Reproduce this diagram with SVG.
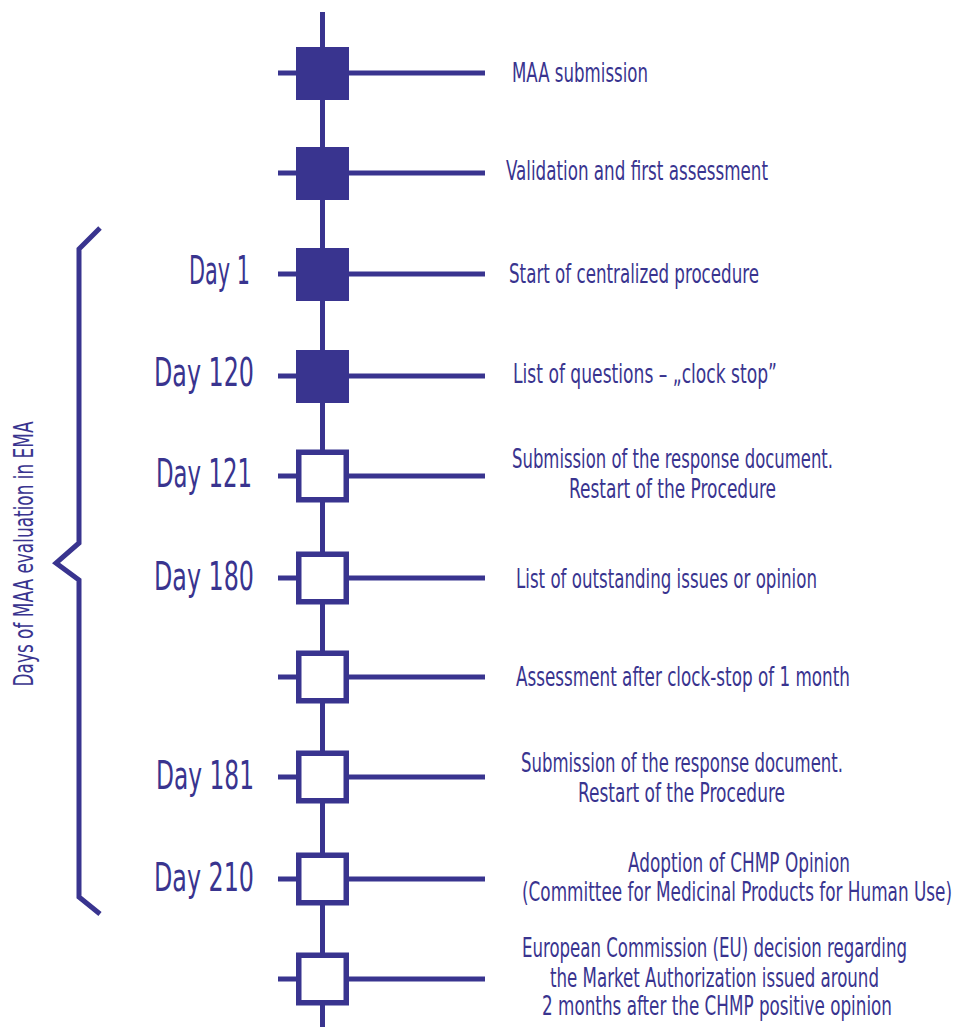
<svg xmlns="http://www.w3.org/2000/svg" width="956" height="1027" viewBox="0 0 956 1027">
<style>
.ln{stroke:#39348f;stroke-width:5;fill:none}
.fill{fill:#39348f}
.open{fill:#fff;stroke:#39348f;stroke-width:5.5}
text{font-family:"Liberation Sans Narrow","DejaVu Sans Condensed","Liberation Sans",sans-serif;fill:#39348f}
.lbl{font-size:26px}
.day{font-size:39px}
.side{font-size:27px}
</style>
<rect width="956" height="1027" fill="#fff"/>
<g id="connectors">
<line class="ln" x1="322.5" y1="12" x2="322.5" y2="1027"/>
<line class="ln" x1="278" y1="73" x2="485" y2="73"/>
<line class="ln" x1="278" y1="173" x2="485" y2="173"/>
<line class="ln" x1="278" y1="274" x2="485" y2="274"/>
<line class="ln" x1="278" y1="376" x2="485" y2="376"/>
<line class="ln" x1="278" y1="476" x2="485" y2="476"/>
<line class="ln" x1="278" y1="578" x2="485" y2="578"/>
<line class="ln" x1="278" y1="677" x2="485" y2="677"/>
<line class="ln" x1="278" y1="777" x2="485" y2="777"/>
<line class="ln" x1="278" y1="879" x2="485" y2="879"/>
<line class="ln" x1="278" y1="979" x2="485" y2="979"/>
</g>
<g id="bracket">
<path class="ln" d="M100,228 L79,249 L79,543 L56,563 L79,580 L79,897 L100,914"/>
<text class="side" transform="translate(33,554) rotate(-90)" text-anchor="middle" textLength="265" lengthAdjust="spacingAndGlyphs">Days of MAA evaluation in EMA</text>
</g>
<g id="n1">
<rect class="fill" x="296" y="47" width="53" height="53"/>
<text class="lbl" x="512" y="81.5" textLength="136" lengthAdjust="spacingAndGlyphs">MAA submission</text>
</g>
<g id="n2">
<rect class="fill" x="296" y="147" width="53" height="53"/>
<text class="lbl" x="506" y="180" textLength="262" lengthAdjust="spacingAndGlyphs">Validation and first assessment</text>
</g>
<g id="n3">
<rect class="fill" x="296" y="248" width="53" height="53"/>
<text class="day" x="189" y="283.5" textLength="61" lengthAdjust="spacingAndGlyphs">Day 1</text>
<text class="lbl" x="509" y="283" textLength="250" lengthAdjust="spacingAndGlyphs">Start of centralized procedure</text>
</g>
<g id="n4">
<rect class="fill" x="296" y="350" width="53" height="53"/>
<text class="day" x="154" y="386" textLength="100" lengthAdjust="spacingAndGlyphs">Day 120</text>
<text class="lbl" x="513" y="383" textLength="264" lengthAdjust="spacingAndGlyphs">List of questions – „clock stop”</text>
</g>
<g id="n5">
<rect class="open" x="298.75" y="452.25" width="47.5" height="47.5"/>
<text class="day" x="156" y="486.5" textLength="96" lengthAdjust="spacingAndGlyphs">Day 121</text>
<text class="lbl" x="512" y="468" textLength="321" lengthAdjust="spacingAndGlyphs">Submission of the response document.</text>
<text class="lbl" x="569" y="498" textLength="207" lengthAdjust="spacingAndGlyphs">Restart of the Procedure</text>
</g>
<g id="n6">
<rect class="open" x="298.75" y="554.25" width="47.5" height="47.5"/>
<text class="day" x="154" y="590" textLength="100" lengthAdjust="spacingAndGlyphs">Day 180</text>
<text class="lbl" x="516" y="588" textLength="301" lengthAdjust="spacingAndGlyphs">List of outstanding issues or opinion</text>
</g>
<g id="n7">
<rect class="open" x="298.75" y="653.25" width="47.5" height="47.5"/>
<text class="lbl" x="516" y="686" textLength="334" lengthAdjust="spacingAndGlyphs">Assessment after clock-stop of 1 month</text>
</g>
<g id="n8">
<rect class="open" x="298.75" y="753.25" width="47.5" height="47.5"/>
<text class="day" x="156" y="789" textLength="98" lengthAdjust="spacingAndGlyphs">Day 181</text>
<text class="lbl" x="521" y="772" textLength="322" lengthAdjust="spacingAndGlyphs">Submission of the response document.</text>
<text class="lbl" x="578" y="802" textLength="207" lengthAdjust="spacingAndGlyphs">Restart of the Procedure</text>
</g>
<g id="n9">
<rect class="open" x="298.75" y="855.25" width="47.5" height="47.5"/>
<text class="day" x="154" y="891" textLength="100" lengthAdjust="spacingAndGlyphs">Day 210</text>
<text class="lbl" x="628" y="871.5" textLength="222" lengthAdjust="spacingAndGlyphs">Adoption of CHMP Opinion</text>
<text class="lbl" x="522" y="901" textLength="430" lengthAdjust="spacingAndGlyphs">(Committee for Medicinal Products for Human Use)</text>
</g>
<g id="n10">
<rect class="open" x="298.75" y="955.25" width="47.5" height="47.5"/>
<text class="lbl" x="522" y="956.5" textLength="385" lengthAdjust="spacingAndGlyphs">European Commission (EU) decision regarding</text>
<text class="lbl" x="550" y="986.5" textLength="329" lengthAdjust="spacingAndGlyphs">the Market Authorization issued around</text>
<text class="lbl" x="542" y="1015" textLength="350" lengthAdjust="spacingAndGlyphs">2 months after the CHMP positive opinion</text>
</g>
</svg>
